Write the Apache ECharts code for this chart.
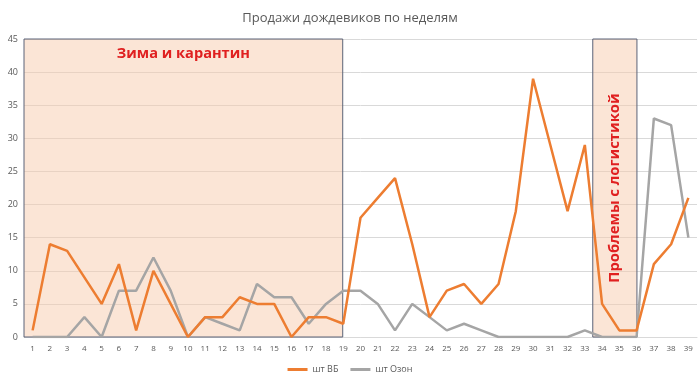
<!DOCTYPE html>
<html><head><meta charset="utf-8">
<script src="https://cdn.jsdelivr.net/npm/echarts@6/dist/echarts.min.js"></script>
<style>html,body{margin:0;padding:0;background:#fff}#c{width:700px;height:384px}</style>
</head><body><div id="c"></div>
<script>
const weeks = Array.from({length: 39}, (_, i) => String(i + 1));
const wb =   [1,14,13,9,5,11,1,10,5,0,3,3,6,5,5,0,3,3,2,18,21,24,14,3,7,8,5,8,19,39,29,19,29,5,1,1,11,14,21];
const ozon = [0,0,0,3,0,7,7,12,7,0,3,2,1,8,6,6,2,5,7,7,5,1,5,3,1,2,1,0,0,0,0,0,1,0,0,0,33,32,15];
const seriesNames = ['шт ВБ', 'шт Озон'];
const zones = [
  {from: 0.5, to: 18.97, text: 'Зима и карантин'},
  {from: 33.46, to: 36.02, text: 'Проблемы с логистикой'}
];
const chart = echarts.init(document.getElementById('c'));
const font = 'Open Sans';
chart.setOption({
  animation: false,
  title: {text: 'Продажи дождевиков по неделям', left: 'center', top: 7,
    textStyle: {fontFamily: font, fontSize: 13, fontWeight: 'normal', color: '#595959'}},
  legend: {data: seriesNames, bottom: 5, left: 'center', itemWidth: 20, itemHeight: 3, itemGap: 12,
    icon: 'rect', textStyle: {fontFamily: font, fontSize: 9, color: '#595959'}},
  grid: {left: 24, right: 3, top: 39, bottom: 47},
  xAxis: [
    {type: 'category', data: weeks, boundaryGap: true,
      axisLine: {lineStyle: {color: '#d9d9d9'}}, axisTick: {show: false},
      axisLabel: {fontFamily: font, fontSize: 8, color: '#595959', interval: 0, margin: 8}},
    {type: 'value', min: 0.5, max: 39.5, show: false}
  ],
  yAxis: {type: 'value', min: 0, max: 45, interval: 5,
    axisLine: {show: false}, axisTick: {show: false},
    splitLine: {lineStyle: {color: '#d9d9d9'}},
    axisLabel: {fontFamily: font, fontSize: 9, color: '#595959', margin: 6}},
  series: [
    {name: 'zones', type: 'line', xAxisIndex: 1, data: [[0.5, null]], silent: true, z: 1,
      markArea: {silent: true,
        itemStyle: {color: 'rgba(248,203,173,0.5)', borderColor: '#5b6378', borderWidth: 1},
        data: [
          [{xAxis: zones[0].from, yAxis: 45, name: zones[0].text,
            label: {show: true, position: 'insideTop', distance: 8, color: '#e02020',
              fontFamily: font, fontSize: 14.6, fontWeight: 'bold'}},
           {xAxis: zones[0].to, yAxis: 0}],
          [{xAxis: zones[1].from, yAxis: 45, name: zones[1].text,
            label: {show: true, position: 'inside', rotate: 90, color: '#e02020',
              fontFamily: font, fontSize: 14.8, fontWeight: 'bold'}},
           {xAxis: zones[1].to, yAxis: 0}]
        ]}},
    {name: seriesNames[0], type: 'line', data: wb, symbol: 'none', z: 3,
      lineStyle: {color: '#ed7d31', width: 2.5}, itemStyle: {color: '#ed7d31'}},
    {name: seriesNames[1], type: 'line', data: ozon, symbol: 'none', z: 2,
      lineStyle: {color: '#a5a5a5', width: 2.5}, itemStyle: {color: '#a5a5a5'}}
  ]
});
</script></body></html>
